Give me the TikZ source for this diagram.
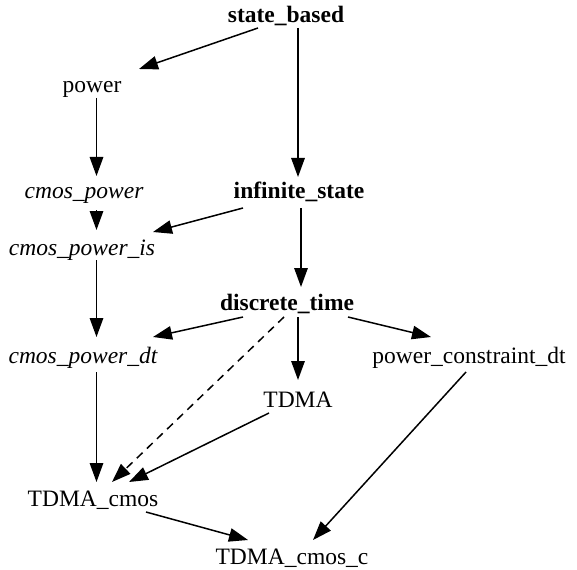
\documentclass[tikz,border=0pt]{standalone}
\usepackage{fontspec}
\setmainfont{Liberation Serif}
\usetikzlibrary{arrows.meta}
\begin{document}
\begin{tikzpicture}[x=1pt,y=-1pt,
  lbl/.style={anchor=base,inner sep=0pt,font=\fontsize{23.5}{28}\selectfont},
  bold/.style={lbl,font=\fontsize{23.5}{28}\selectfont\bfseries},
  ital/.style={lbl,font=\fontsize{23.5}{28}\selectfont\itshape},
  edge/.style={line width=1.5pt,-{Triangle[length=19pt,width=13.5pt]}},
  dashedge/.style={edge,dash pattern=on 8pt off 6pt}]
\useasboundingbox (0,0) rectangle (577,569);
% node texts, placed on their baselines
\node[bold] (sb)   at (286,23)  {state\_based};
\node[lbl]  (pw)   at (92,93)   {power};
\node[ital] (cp)   at (84,199)  {cmos\_power};
\node[bold] (is)   at (299,199) {infinite\_state};
\node[ital] (cpi)  at (82,255)  {cmos\_power\_is};
\node[bold] (dt)   at (287,310) {discrete\_time};
\node[ital] (cpd)  at (83,363)  {cmos\_power\_dt};
\node[lbl]  (pcd)  at (469,363) {power\_constraint\_dt};
\node[lbl]  (tdma) at (298,407) {TDMA};
\node[lbl]  (tc)   at (93,506)  {TDMA\_cmos};
\node[lbl]  (tcc)  at (292,564) {TDMA\_cmos\_c};
% connectors
\draw[edge] ([shift={(-28,5)}]sb.base)    -- ([shift={(47,-24)}]pw.base);
\draw[edge] ([shift={(12,5)}]sb.base)     -- ([shift={(-1,-22)}]is.base);
\draw[edge] ([shift={(4.5,5)}]pw.base)    -- ([shift={(12.5,-23)}]cp.base);
\draw[edge] ([shift={(12.5,11)}]cp.base)  -- ([shift={(14.5,-25)}]cpi.base);
\draw[edge] ([shift={(-56,9)}]is.base)    -- ([shift={(71,-23)}]cpi.base);
\draw[edge] ([shift={(2,9)}]is.base)      -- ([shift={(14,-23)}]dt.base);
\draw[edge] ([shift={(14.5,5)}]cpi.base)  -- ([shift={(13.5,-26)}]cpd.base);
\draw[edge] ([shift={(-44,7)}]dt.base)    -- ([shift={(70,-26)}]cpd.base);
\draw[edge] ([shift={(11,7)}]dt.base)     -- ([shift={(0,-27)}]tdma.base);
\draw[edge] ([shift={(61,7)}]dt.base)     -- ([shift={(-38,-26)}]pcd.base);
\draw[dashedge] ([shift={(-3,7)}]dt.base) -- ([shift={(19,-24)}]tc.base);
\draw[edge] ([shift={(-29,6)}]tdma.base)  -- ([shift={(36,-24)}]tc.base);
\draw[edge] ([shift={(13.5,9)}]cpd.base)  -- ([shift={(3.5,-24)}]tc.base);
\draw[edge] ([shift={(53,6)}]tc.base)     -- ([shift={(-44,-24)}]tcc.base);
\draw[edge] ([shift={(-3,9)}]pcd.base)    -- ([shift={(21,-24)}]tcc.base);
\end{tikzpicture}
\end{document}
